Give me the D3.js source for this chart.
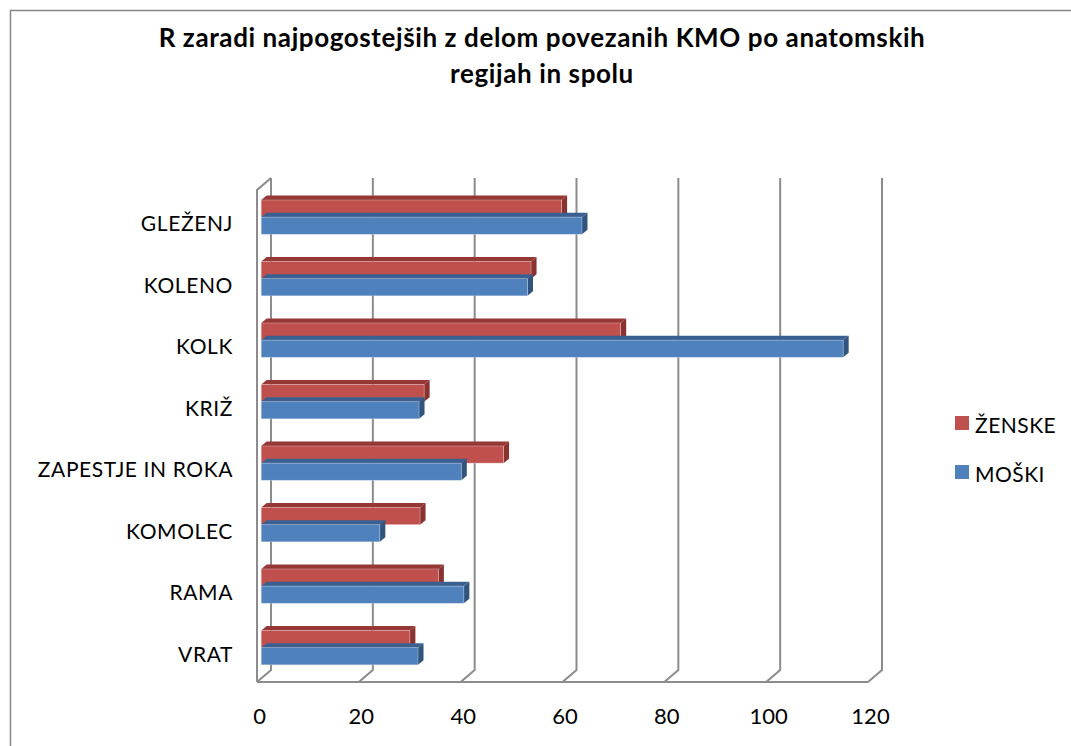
<!DOCTYPE html>
<html>
<head>
<meta charset="utf-8">
<script src="https://cdn.jsdelivr.net/npm/d3@7"></script>
<style>
  body { margin: 0; background: #fff; }
  text { font-family: Lato, "Liberation Sans", sans-serif; fill: #000; }
</style>
</head>
<body>
<svg id="chart" width="1071" height="746"></svg>
<script>
// data (top to bottom)
const categories = ["GLEŽENJ", "KOLENO", "KOLK", "KRIŽ", "ZAPESTJE IN ROKA", "KOMOLEC", "RAMA", "VRAT"]
const seriesNames = ["ŽENSKE", "MOŠKI"]
const zenske = [59, 53, 70.6, 32, 47.6, 31.2, 34.8, 29.2]
const moski = [63, 52.3, 114.3, 31, 39.3, 23.3, 39.8, 30.8]
const xTicks = [0, 20, 40, 60, 80, 100, 120]
const titleLines = ["R zaradi najpogostejših z delom povezanih KMO po anatomskih", "regijah in spolu"]

const colors = { "ŽENSKE": "#C0504D", "MOŠKI": "#4F81BD" }
const darkTop = { "ŽENSKE": "#953735", "MOŠKI": "#3A6091" }
const darkSide = { "ŽENSKE": "#8A3230", "MOŠKI": "#31547F" }

const svg = d3.select("#chart")

// outer frame
svg.append("rect")
  .attr("x", 10.5).attr("y", 10.5)
  .attr("width", 1080).attr("height", 760)
  .attr("fill", "none").attr("stroke", "#878787").attr("stroke-width", 1.5)

// title
svg.selectAll(".title")
  .data(titleLines)
  .enter()
  .append("text")
  .attr("class", "title")
  .attr("x", 542)
  .attr("y", (d, i) => 37 + i * 36)
  .attr("text-anchor", "middle")
  .attr("dominant-baseline", "central")
  .style("font-weight", "bold")
  .style("font-size", "26px")
  .style("letter-spacing", "0.6px")
  .text(d => d)

// front plane scales, wall depth vector, bar depth
const xScale = d3.scaleLinear().domain([0, 120]).range([257, 868])
const yScale = d3.scaleBand().domain(categories).range([190, 682])
const ySub = d3.scaleBand().domain(seriesNames).range([0, yScale.bandwidth()]).paddingOuter(0.79)
const wall = { x: 14, y: -12 }
const t = 0.3          // depth of the bar front face inside the box
const bd = { x: 5.5, y: -4.5 }

const grid = svg.append("g")
  .attr("stroke", "#8C8C8C")
  .attr("stroke-width", 2)
  .attr("fill", "none")

const y0 = yScale.range()[0], y1 = yScale.range()[1]

// back wall verticals + floor slants
xTicks.forEach(v => {
  const xb = xScale(v) + wall.x
  grid.append("path")
    .attr("d", `M${xb},${y0 + wall.y}L${xb},${y1 + wall.y}L${xScale(v)},${y1}`)
})
// floor front edge
grid.append("path")
  .attr("d", `M${xScale(0)},${y1}L${xScale(120)},${y1}`)
// left wall front edge
grid.append("path")
  .attr("d", `M${xScale(0) + wall.x},${y0 + wall.y}L${xScale(0)},${y0}L${xScale(0)},${y1}`)

// bars
const rows = []
categories.forEach((c, i) => {
  rows.push({ cat: c, s: "ŽENSKE", v: zenske[i] })
  rows.push({ cat: c, s: "MOŠKI", v: moski[i] })
})

const bars = svg.append("g")
const h = ySub.bandwidth()
rows.forEach(d => {
  const x0 = xScale(0) + t * wall.x
  const x1 = xScale(d.v) + t * wall.x
  const y = yScale(d.cat) + ySub(d.s) + t * wall.y
  const g = bars.append("g")
  g.append("path")
    .attr("d", `M${x0},${y}L${x1},${y}L${x1 + bd.x},${y + bd.y}L${x0 + bd.x},${y + bd.y}Z`)
    .attr("fill", darkTop[d.s])
  g.append("path")
    .attr("d", `M${x1},${y}L${x1 + bd.x},${y + bd.y}L${x1 + bd.x},${y + h + bd.y}L${x1},${y + h}Z`)
    .attr("fill", darkSide[d.s])
  g.append("rect")
    .attr("x", x0).attr("y", y)
    .attr("width", x1 - x0).attr("height", h)
    .attr("fill", colors[d.s])
    .attr("stroke", "rgba(255,255,255,0.35)")
    .attr("stroke-width", 0.8)
})

// category labels
svg.append("g")
  .selectAll("text")
  .data(categories)
  .enter()
  .append("text")
  .attr("x", 233)
  .attr("y", d => yScale(d) + yScale.bandwidth() / 2 + 2)
  .attr("text-anchor", "end")
  .attr("dominant-baseline", "central")
  .style("font-size", "21px")
  .style("letter-spacing", "0.6px")
  .text(d => d)

// x axis labels
const axis = d3.axisBottom(xScale).tickValues(xTicks).tickSize(0).tickPadding(0)
const ax = svg.append("g")
  .attr("transform", `translate(2,${y1 + 26})`)
  .call(axis)
ax.select(".domain").remove()
ax.selectAll("text")
  .style("font-size", "22px")
  .style("font-family", "Lato, sans-serif")
  .attr("fill", "#000")

// legend (ŽENSKE first, as in reference)
const legend = svg.append("g")
seriesNames.forEach((s, i) => {
  const ly = 423 + i * 49
  legend.append("rect")
    .attr("x", 955).attr("y", ly - 7)
    .attr("width", 14).attr("height", 14)
    .attr("fill", colors[s])
  legend.append("text")
    .attr("x", 975).attr("y", ly + 1)
    .attr("dominant-baseline", "central")
    .style("font-size", "21px")
    .style("letter-spacing", "0.5px")
    .text(s)
})
</script>
</body>
</html>
